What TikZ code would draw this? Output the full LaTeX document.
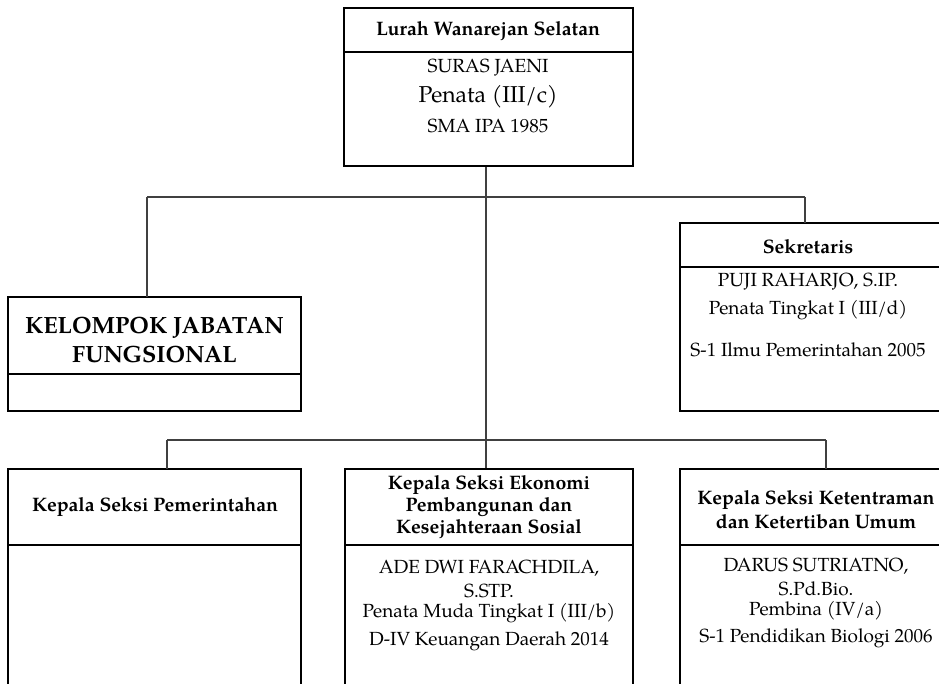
\documentclass[tikz,border=0pt]{standalone}
\usepackage{fontspec}
\setmainfont{texgyrepagella}[Extension=.otf,UprightFont=*-regular,BoldFont=*-bold,ItalicFont=*-italic,BoldItalicFont=*-bolditalic]
\begin{document}
\begin{tikzpicture}[x=1pt,y=-1pt,
  box/.style={draw=black,line width=2pt,rectangle,inner sep=0pt},
  conn/.style={draw=black!75,line width=1.1pt},
  hdr/.style={inner sep=0pt,align=center,font=\fontsize{19.5}{22}\selectfont\bfseries},
  txt/.style={inner sep=0pt,align=center,font=\fontsize{19}{22}\selectfont},
  big/.style={inner sep=0pt,align=center,font=\fontsize{23}{26}\selectfont},
  kjf/.style={inner sep=0pt,align=center,font=\fontsize{23.5}{28.5}\selectfont\bfseries}]
\useasboundingbox (0,0) rectangle (939,683);
\clip (0,0) rectangle (939,683);
% boxes
\node[box,minimum width=289pt,minimum height=158pt] (lurah) at (488.5,87) {};
\node[box,minimum width=293pt,minimum height=114pt] (kjf) at (154.5,354) {};
\node[box,minimum width=265pt,minimum height=188pt] (sek) at (812.5,317) {};
\node[box,minimum width=293pt,minimum height=221pt] (pem) at (154.5,579.5) {};
\node[box,minimum width=288pt,minimum height=221pt] (eko) at (489,579.5) {};
\node[box,minimum width=265pt,minimum height=221pt] (ket) at (812.5,579.5) {};
% dividers
\draw[line width=2pt] (lurah.west |- 0,52) -- (lurah.east |- 0,52);
\draw[line width=2pt] (kjf.west |- 0,374) -- (kjf.east |- 0,374);
\draw[line width=2pt] (sek.west |- 0,267) -- (sek.east |- 0,267);
\draw[line width=2pt] (pem.west |- 0,545) -- (pem.east |- 0,545);
\draw[line width=2pt] (eko.west |- 0,545) -- (eko.east |- 0,545);
\draw[line width=2pt] (ket.west |- 0,545) -- (ket.east |- 0,545);
% connectors
\coordinate (j1) at (486,197);
\coordinate (j2) at (486,440);
\coordinate (kjftop) at (147,297);
\coordinate (sektop) at (805,223);
\coordinate (pemtop) at (167,469);
\coordinate (kettop) at (826,469);
\draw[conn] (lurah.south -| j1) -- (eko.north -| j1);
\draw[conn] (kjftop |- j1) -- (sektop |- j1);
\draw[conn] (kjftop |- j1) -- (kjftop);
\draw[conn] (sektop |- j1) -- (sektop);
\draw[conn] (pemtop |- j2) -- (kettop |- j2);
\draw[conn] (pemtop |- j2) -- (pemtop);
\draw[conn] (kettop |- j2) -- (kettop);
% texts top
\node[hdr] (t1) at (488,31) {Lurah Wanarejan Selatan};
\node[txt] (t2) at (488,68) {SURAS JAENI};
\node[big] (t3) at (488,97) {Penata (III/c)};
\node[txt] (t4) at (488,126) {SMA IPA 1985};
% kjf
\node[kjf] (t5) at (154.5,340) {KELOMPOK JABATAN\\FUNGSIONAL};
% sekretaris
\node[hdr] (t6) at (808,247) {Sekretaris};
\node[txt] (t7) at (808,282) {PUJI RAHARJO, S.IP.};
\node[txt] (t8) at (808,310) {Penata Tingkat I (III/d)};
\node[txt] (t9) at (808,350) {S-1 Ilmu Pemerintahan 2005};
% bottom
\node[hdr] (t10) at (155,507) {Kepala Seksi Pemerintahan};
\node[hdr] (t11) at (489,485) {Kepala Seksi Ekonomi};
\node[hdr] (t12) at (489,507) {Pembangunan dan};
\node[hdr] (t13) at (489,529) {Kesejahteraan Sosial};
\node[txt] (t14) at (489,568) {ADE DWI FARACHDILA,};
\node[txt] (t15) at (489,591) {S.STP.};
\node[txt] (t16) at (489,613) {Penata Muda Tingkat I (III/b)};
\node[txt] (t17) at (489,641) {D-IV Keuangan Daerah 2014};
\node[hdr] (t18) at (816,500) {Kepala Seksi Ketentraman};
\node[hdr] (t19) at (816,522) {dan Ketertiban Umum};
\node[txt] (t20) at (816,566) {DARUS SUTRIATNO,};
\node[txt] (t21) at (816,589) {S.Pd.Bio.};
\node[txt] (t22) at (816,611) {Pembina (IV/a)};
\node[txt] (t23) at (816,638) {S-1 Pendidikan Biologi 2006};
\end{tikzpicture}
\end{document}
